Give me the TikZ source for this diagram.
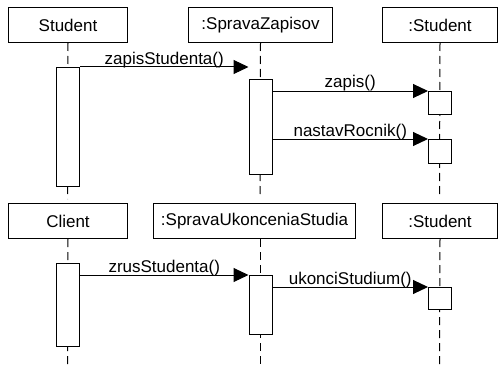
\documentclass[tikz,border=0pt]{standalone}
\usepackage{fontspec}
\setmainfont{Liberation Sans}
\usetikzlibrary{arrows.meta}
\begin{document}
\begin{tikzpicture}[x=1pt,y=-1pt,
  every node/.style={font=\fontsize{17}{20}\selectfont, inner sep=0pt},
  obj/.style={draw, line width=1pt, minimum height=35pt, anchor=north west},
  act/.style={draw, fill=white, line width=1pt, anchor=north west, minimum width=23pt},
  life/.style={line width=1pt, dash pattern=on 8pt off 5pt},
  msg/.style={line width=1pt, -{Triangle[length=15pt,width=14pt]}},
  lbl/.style={anchor=base, yshift=3pt}
]
\path[use as bounding box] (0,0) rectangle (498,369);
% object headers
\node[obj, minimum width=119pt] (s1) at (8,7) {Student};
\node[obj, minimum width=144pt] (s2) at (188,7) {:SpravaZapisov};
\node[obj, minimum width=115pt] (s3) at (382,7) {:Student};
\node[obj, minimum width=119pt] (c1) at (8,203) {Client};
\node[obj, minimum width=202pt] (c2) at (153,203) {:SpravaUkonceniaStudia};
\node[obj, minimum width=115pt] (c3) at (382,203) {:Student};
% lifeline ends
\coordinate (e1) at (67.5,199);
\coordinate (e2) at (260,197);
\coordinate (e3) at (439.5,197);
\coordinate (f1) at (67.5,366);
\coordinate (f2) at (260,366);
\coordinate (f3) at (439.5,367);
\draw[life] (s1.south) -- (e1);
\draw[life] (s2.south) -- (e2);
\draw[life] (s3.south) -- (e3);
\draw[life] (c1.south) -- (f1);
\draw[life] (c2.south -| f2) -- (f2);
\draw[life] (c3.south) -- (f3);
% activations
\node[act, minimum height=119pt] (a1) at (56,67) {};
\node[act, minimum height=95pt] (a2) at (248.5,79) {};
\node[act, minimum height=23pt] (a3) at (428,91) {};
\node[act, minimum height=24pt] (a4) at (428,139) {};
\node[act, minimum height=83pt] (b1) at (56,263) {};
\node[act, minimum height=59pt] (b2) at (248.5,275) {};
\node[act, minimum height=22pt] (b3) at (428,287) {};
% messages
\draw[msg] (a1.north east) -- (a1.north east -| a2.west) node[lbl, midway] {zapisStudenta()};
\draw[msg] (a3.north west -| a2.east) -- (a3.north west) node[lbl, midway] {zapis()};
\draw[msg] (a4.north west -| a2.east) -- (a4.north west) node[lbl, midway] {nastavRocnik()};
\draw[msg] (b2.north west -| b1.east) -- (b2.north west) node[lbl, midway] {zrusStudenta()};
\draw[msg] (b3.north west -| b2.east) -- (b3.north west) node[lbl, midway] {ukonciStudium()};
\end{tikzpicture}
\end{document}
